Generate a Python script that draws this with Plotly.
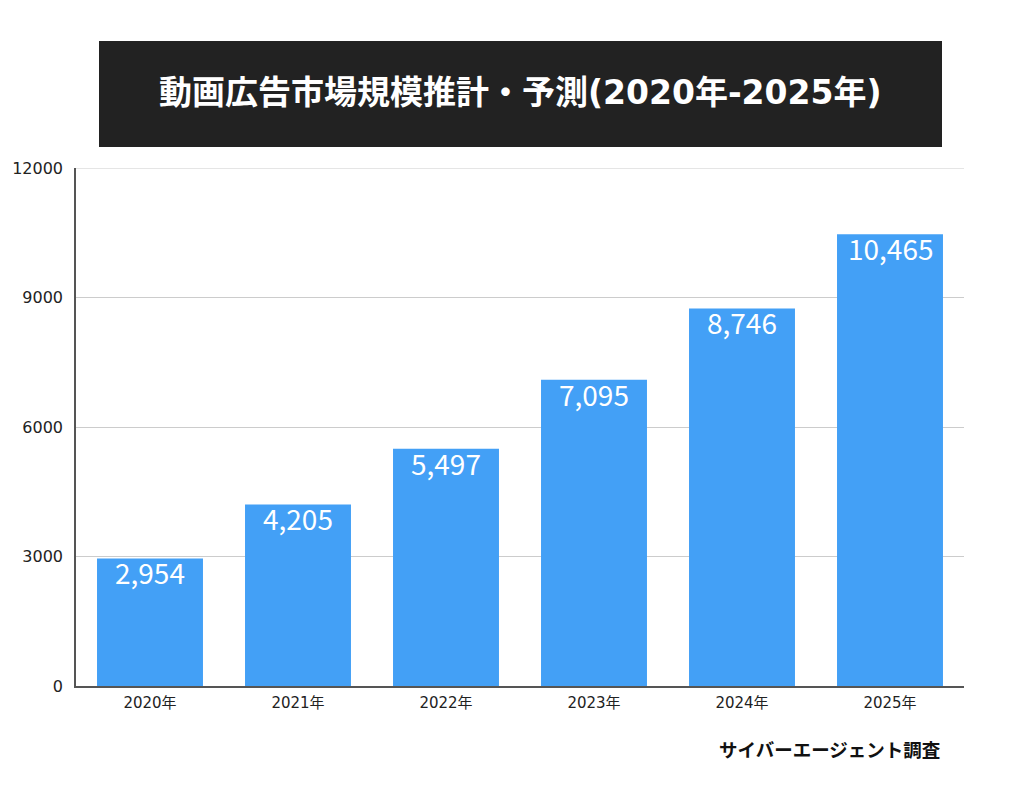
import plotly.graph_objects as go

years = ["2020年", "2021年", "2022年", "2023年", "2024年", "2025年"]
values = [2954, 4205, 5497, 7095, 8746, 10465]
labels = ["2,954", "4,205", "5,497", "7,095", "8,746", "10,465"]
y_ticks = [0, 3000, 6000, 9000, 12000]
title_text = "動画広告市場規模推計・予測(2020年-2025年)"
source_text = "サイバーエージェント調査"

cjk = "Noto Sans CJK JP"
tick_font = "DejaVu Sans, Noto Sans CJK JP, sans-serif"
title_font = "DejaVu Sans, Noto Sans CJK JP, sans-serif"

# page body has an 8px margin, so layout is offset accordingly
L, T, PW, PH = 68, 160, 888, 518

fig = go.Figure(
    go.Bar(
        x=years,
        y=values,
        marker=dict(color="#43A0F6", line=dict(width=0)),
        hoverinfo="x+y",
    )
)

annotations = []
for yr, v, lab in zip(years, values, labels):
    annotations.append(
        dict(
            x=yr,
            y=v,
            xref="x",
            yref="y",
            text=lab,
            showarrow=False,
            yanchor="top",
            xanchor="center",
            yshift=8,
            font=dict(size=28, color="white", family=cjk),
        )
    )

annotations += [
    dict(
        text="<b>" + title_text + "</b>",
        xref="paper",
        yref="paper",
        x=(520 - 76) / PW,
        y=(686 - 93) / PH,
        xanchor="center",
        yanchor="middle",
        showarrow=False,
        font=dict(size=33, color="white", family=title_font),
    ),
    dict(
        text="<b>" + source_text + "</b>",
        xref="paper",
        yref="paper",
        x=(942 - 76) / PW,
        y=(686 - 749) / PH,
        xanchor="right",
        yanchor="middle",
        showarrow=False,
        font=dict(size=18.5, color="#111111", family=cjk),
    ),
]

fig.update_layout(
    width=1024,
    height=805,
    margin=dict(l=L, r=1024 - L - PW, t=T, b=805 - T - PH, autoexpand=False),
    paper_bgcolor="white",
    plot_bgcolor="white",
    bargap=0.284,
    showlegend=False,
    font=dict(family=tick_font, color="#222222"),
    xaxis=dict(
        automargin=False,
        showline=True,
        linecolor="#555555",
        linewidth=1.5,
        ticks="",
        tickfont=dict(size=15, color="#222222", family=tick_font),
        showgrid=False,
        ticklabelstandoff=2,
    ),
    yaxis=dict(
        automargin=False,
        range=[0, 12000],
        tickvals=y_ticks,
        ticktext=[str(v) for v in y_ticks],
        showline=True,
        linecolor="#555555",
        linewidth=1.5,
        showgrid=True,
        gridcolor="#CCCCCC",
        gridwidth=1,
        zeroline=False,
        ticks="",
        ticklabelstandoff=8,
        tickfont=dict(size=16, color="#222222", family=tick_font),
    ),
    shapes=[
        dict(
            type="line",
            xref="paper",
            yref="y",
            x0=0,
            x1=1,
            y0=y_ticks[-1],
            y1=y_ticks[-1],
            line=dict(color="#CCCCCC", width=1),
            layer="below",
        ),
        dict(
            type="rect",
            xref="paper",
            yref="paper",
            x0=(99 - 76) / PW,
            x1=(942 - 76) / PW,
            y0=(686 - 147) / PH,
            y1=(686 - 41) / PH,
            fillcolor="#222222",
            line=dict(width=0),
            layer="above",
        ),
    ],
    annotations=annotations,
)

fig.write_html("out.html")
